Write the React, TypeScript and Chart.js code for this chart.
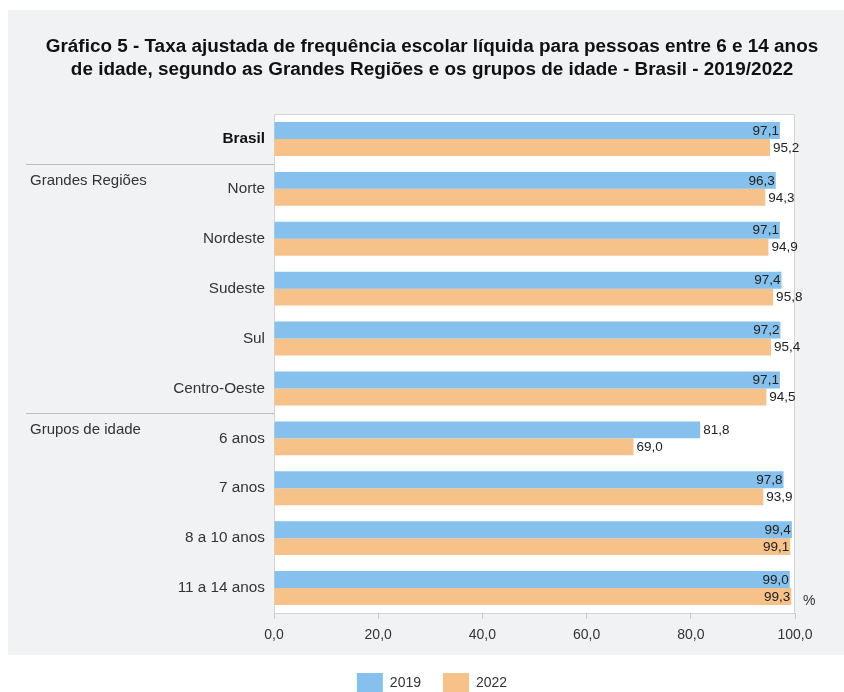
import React, { useEffect, useRef } from "react";
import { Chart, registerables } from "chart.js";

Chart.register(...registerables);

const titleLines = [
  "Gráfico 5 - Taxa ajustada de frequência escolar líquida para pessoas entre 6 e 14 anos",
  "de idade, segundo as Grandes Regiões e os grupos de idade - Brasil - 2019/2022",
];
const categories = [
  "Brasil",
  "Norte",
  "Nordeste",
  "Sudeste",
  "Sul",
  "Centro-Oeste",
  "6 anos",
  "7 anos",
  "8 a 10 anos",
  "11 a 14 anos",
];
const values2019 = [97.1, 96.3, 97.1, 97.4, 97.2, 97.1, 81.8, 97.8, 99.4, 99.0];
const values2022 = [95.2, 94.3, 94.9, 95.8, 95.4, 94.5, 69.0, 93.9, 99.1, 99.3];
const seriesNames = ["2019", "2022"];
const xMin = 0;
const xMax = 100;
const xStep = 20;
const unitLabel = "%";
// group headings: text and index of the category after which a separator is drawn
const groupHeadings = ["Grandes Regiões", "Grupos de idade"];
const groupAfter = [0, 5];

const FONT = "'Liberation Sans', Arial, Helvetica, sans-serif";
const BLUE = "#85c1ec";
const ORANGE = "#f7c18a";

const fmt = (v: number) => v.toFixed(1).replace(".", ",");

const decorPlugin = {
  id: "decor",
  beforeDraw(chart: any) {
    const { ctx, chartArea: a } = chart;
    ctx.save();
    const panelBottom = chart.scales.x.bottom + 4;
    ctx.fillStyle = "#f1f2f4";
    ctx.fillRect(8, 10, chart.width - 8, panelBottom - 10);
    ctx.fillStyle = "#ffffff";
    ctx.fillRect(a.left, a.top, a.right - a.left, a.bottom - a.top);
    ctx.strokeStyle = "#d4d4d4";
    ctx.lineWidth = 1;
    ctx.strokeRect(a.left + 0.5, a.top + 0.5, a.right - a.left - 1, a.bottom - a.top);
    // title
    ctx.font = `bold 18.9px ${FONT}`;
    ctx.fillStyle = "#111111";
    ctx.textAlign = "center";
    ctx.textBaseline = "middle";
    const cx = (chart.legend.left + chart.legend.right) / 2;
    titleLines.forEach((line, i) => {
      ctx.fillText(line, cx, 47 + i * 23);
    });
    ctx.restore();
  },
  afterDatasetsDraw(chart: any) {
    const { ctx, chartArea: a } = chart;
    const y = chart.scales.y;
    ctx.save();
    // value labels
    ctx.font = `13.5px ${FONT}`;
    ctx.fillStyle = "#222222";
    ctx.textBaseline = "middle";
    chart.data.datasets.forEach((ds: any, di: number) => {
      const meta = chart.getDatasetMeta(di);
      meta.data.forEach((bar: any, i: number) => {
        const v = ds.data[i];
        const txt = fmt(v);
        if (v > 96) {
          ctx.textAlign = "right";
          ctx.fillText(txt, bar.x - 1, bar.y + 0.5);
        } else {
          ctx.textAlign = "left";
          ctx.fillText(txt, bar.x + 3, bar.y + 0.5);
        }
      });
    });
    // separators and group headings
    ctx.strokeStyle = "#bdbdbd";
    ctx.lineWidth = 1;
    ctx.font = `15px ${FONT}`;
    ctx.fillStyle = "#333333";
    ctx.textAlign = "left";
    groupHeadings.forEach((h, k) => {
      const sy = Math.round(y.getPixelForValue(groupAfter[k] + 0.5)) + 0.5;
      ctx.beginPath();
      ctx.moveTo(26, sy);
      ctx.lineTo(a.left, sy);
      ctx.stroke();
      ctx.fillText(h, 30, sy + 16);
    });
    // unit label
    ctx.font = `14px ${FONT}`;
    ctx.fillStyle = "#333333";
    ctx.fillText(unitLabel, a.right + 8, a.bottom - 12);
    ctx.restore();
  },
};

export default function App() {
  const ref = useRef<HTMLCanvasElement | null>(null);
  useEffect(() => {
    if (!ref.current) return;
    Chart.defaults.font.family = FONT;
    const chart = new Chart(ref.current, {
      type: "bar",
      data: {
        labels: categories,
        datasets: [
          {
            label: seriesNames[0],
            data: values2019,
            backgroundColor: BLUE,
            borderWidth: 0,
            categoryPercentage: 0.68,
            barPercentage: 1,
          },
          {
            label: seriesNames[1],
            data: values2022,
            backgroundColor: ORANGE,
            borderWidth: 0,
            categoryPercentage: 0.68,
            barPercentage: 1,
          },
        ],
      },
      options: {
        indexAxis: "y",
        responsive: false,
        animation: false,
        devicePixelRatio: 1,
        layout: { padding: { left: 69, right: 49, top: 114, bottom: 0 } },
        scales: {
          x: {
            min: xMin,
            max: xMax,
            grid: {
              drawOnChartArea: false,
              drawTicks: true,
              tickLength: 6,
              color: "#c8c8c8",
            },
            border: { display: false },
            ticks: {
              stepSize: xStep,
              padding: 8,
              color: "#333333",
              font: { size: 14, family: FONT },
              callback: (v: any) => fmt(Number(v)),
              maxRotation: 0,
            },
            afterFit: (s: any) => {
              s.height = 38;
            },
          },
          y: {
            grid: { display: false, drawTicks: false },
            border: { display: false },
            ticks: {
              padding: 9,
              color: (c: any) => (c.index === 0 ? "#111111" : "#333333"),
              font: (c: any) => ({
                size: 15.3,
                family: FONT,
                weight: c.index === 0 ? "bold" : "normal",
              }),
            },
            afterFit: (s: any) => {
              s.width = 205;
            },
          },
        },
        plugins: {
          title: { display: false },
          legend: {
            position: "bottom",
            labels: {
              boxWidth: 26,
              boxHeight: 20,
              padding: 22,
              color: "#333333",
              font: { size: 14, family: FONT },
            },
          },
          tooltip: { enabled: false },
        },
      },
      plugins: [decorPlugin],
    } as any);
    return () => chart.destroy();
  }, []);
  return (
    <div
      style={{
        position: "fixed",
        left: 0,
        top: 0,
        width: 844,
        height: 692,
        overflow: "hidden",
        background: "#ffffff",
      }}
    >
      <canvas ref={ref} width={844} height={703} style={{ display: "block" }} />
    </div>
  );
}
